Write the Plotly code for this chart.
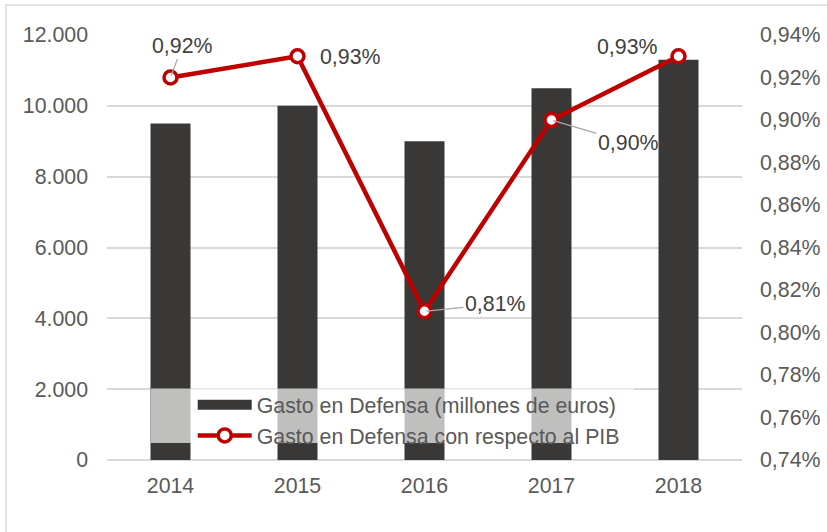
import plotly.graph_objects as go

years = ["2014", "2015", "2016", "2017", "2018"]
gasto = [9500, 10000, 9000, 10500, 11300]
pib_pct = [0.92, 0.93, 0.81, 0.90, 0.93]
pib_labels = ["0,92%", "0,93%", "0,81%", "0,90%", "0,93%"]
left_ticks = [0, 2000, 4000, 6000, 8000, 10000, 12000]
right_ticks = [0.74, 0.76, 0.78, 0.80, 0.82, 0.84, 0.86, 0.88, 0.90, 0.92, 0.94]
right_text = ["0,74%", "0,76%", "0,78%", "0,80%", "0,82%", "0,84%",
              "0,86%", "0,88%", "0,90%", "0,92%", "0,94%"]

FONT = "Liberation Sans, Arial, sans-serif"
FS = 21.33
TXT = "#595959"
BAR = "#3a3837"
RED = "#c00000"

fig = go.Figure()
fig.add_trace(go.Bar(
    x=years, y=gasto, name="Gasto en Defensa (millones de euros)",
    marker=dict(color=BAR, line=dict(width=0)), width=0.315, showlegend=False,
))
# legend entry for bars (wide bar swatch as in the reference)
fig.add_trace(go.Scatter(
    x=[None], y=[None], mode="lines", name="Gasto en Defensa (millones de euros)",
    line=dict(color=BAR, width=11), hoverinfo="skip",
))
fig.add_trace(go.Scatter(
    x=years, y=pib_pct, yaxis="y2", mode="lines+markers",
    name="Gasto en Defensa con respecto al PIB",
    line=dict(color=RED, width=4.5),
    marker=dict(symbol="circle", size=13, color="white",
                line=dict(color=RED, width=3.5)),
))

# label offsets (pixels, text centre relative to point) and leader flag
offsets = [(12, -32, True), (53, 1, False), (71, -7, True), (77, 23, True), (-51, -9, False)]
for i, (v, lab, (dx, dy, lead)) in enumerate(zip(pib_pct, pib_labels, offsets)):
    if lead:
        fig.add_annotation(x=i, y=v, xref="x", yref="y2", text=lab, showarrow=True,
                           arrowhead=0, arrowwidth=1.2, arrowcolor="#a6a6a6",
                           ax=dx, ay=dy, standoff=2,
                           font=dict(family=FONT, size=FS, color="#404040"))
    else:
        fig.add_annotation(x=i, y=v, xref="x", yref="y2", text=lab, showarrow=False,
                           xshift=dx, yshift=-dy,
                           font=dict(family=FONT, size=FS, color="#404040"))

# legend backdrop (semi-transparent white over the bars)
fig.add_shape(type="rect", xref="paper", yref="paper",
              x0=0.069, x1=0.83, y0=0.04, y1=0.168,
              fillcolor="rgba(255,255,255,0.68)", line=dict(width=0), layer="above")
# outer chart border
fig.add_shape(type="rect", xref="paper", yref="paper",
              x0=-0.159, x1=1.2, y0=-0.3, y1=1.0706,
              line=dict(color="#d9d9d9", width=1.5), layer="below")

fig.update_layout(
    width=827, height=532,
    margin=dict(l=107, r=85, t=35, b=72, autoexpand=False),
    paper_bgcolor="white", plot_bgcolor="white",
    separators=",.",
    font=dict(family=FONT, size=FS, color=TXT),
    showlegend=True,
    legend=dict(x=0.135, y=0.178, xanchor="left", yanchor="top",
                bgcolor="rgba(0,0,0,0)", font=dict(size=FS, color=TXT),
                tracegroupgap=0, itemwidth=54),
    xaxis=dict(type="category", range=[-0.5, 4.5], showgrid=False, showline=False,
               automargin=False,
               ticks="", tickfont=dict(size=FS, color=TXT), ticklabelstandoff=11),
    yaxis=dict(range=[0, 12000], tickvals=left_ticks, tickformat=",d", automargin=False,
               showgrid=True, gridcolor="#d9d9d9", gridwidth=1.5,
               zeroline=True, zerolinecolor="#d9d9d9", zerolinewidth=1.5,
               ticks="", ticklabelstandoff=18, tickfont=dict(size=FS, color=TXT)),
    yaxis2=dict(range=[0.74, 0.94], tickvals=right_ticks, ticktext=right_text,
                overlaying="y", side="right", showgrid=False, zeroline=False,
                automargin=False,
                ticks="", ticklabelstandoff=17, tickfont=dict(size=FS, color=TXT)),
)

fig.write_html("out.html", config={"displayModeBar": False},
               post_script="document.body.style.margin='0';")
